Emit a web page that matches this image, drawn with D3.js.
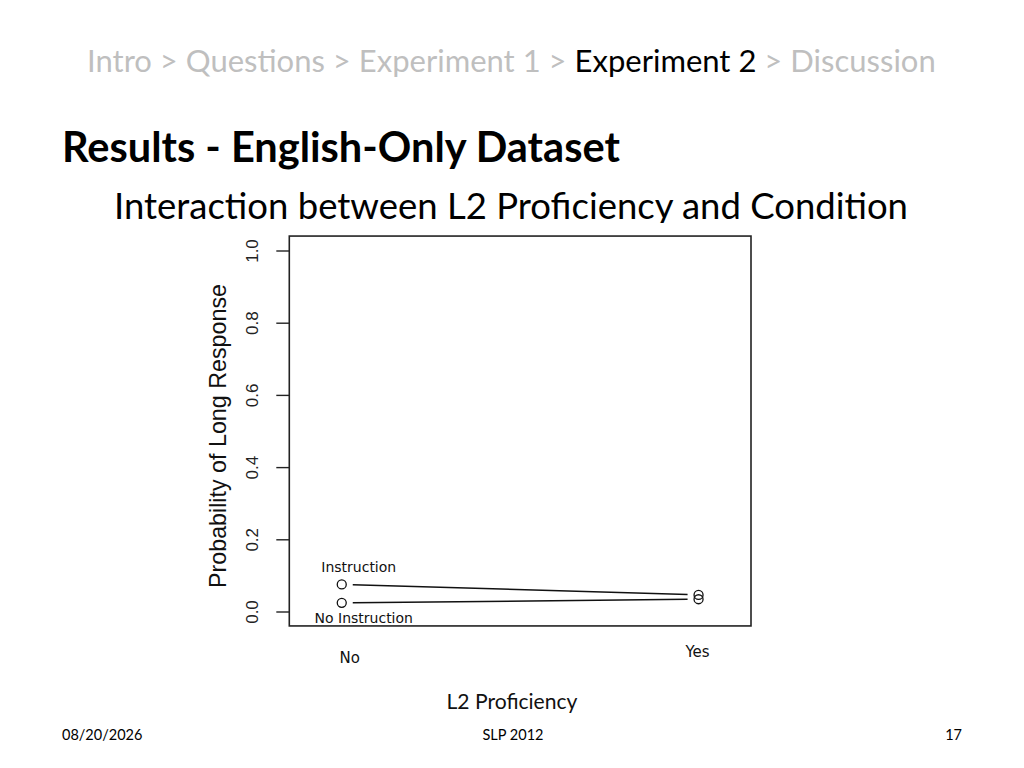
<!DOCTYPE html>
<html>
<head>
<meta charset="utf-8">
<script src="https://cdn.jsdelivr.net/npm/d3@7"></script>
<style>
  body { margin: 0; background: #fff; }
  svg { display: block; }
</style>
</head>
<body>
<svg id="chart"></svg>
<script>
// Data
const proficiency = ["No", "Yes"];
const conditions = ["Instruction", "No Instruction"];
const instructionValues = [0.075, 0.046];
const noInstructionValues = [0.024, 0.034];
const yTicks = [0, 0.2, 0.4, 0.6, 0.8, 1.0];
const crumbs = ["Intro", "Questions", "Experiment 1", "Experiment 2", "Discussion"];
const activeCrumb = "Experiment 2";

const width = 1024;
const height = 768;
const plot = { left: 289.3, right: 751, top: 236, bottom: 626 };

const svg = d3.select("#chart")
    .attr("width", width)
    .attr("height", height);

const slideFont = "Lato, 'Open Sans', sans-serif";
const rFont = "'Liberation Sans', Arial, sans-serif";
const labelFont = "'DejaVu Sans', Verdana, sans-serif";

// scale the font size so the text takes the width it has on the slide
function fitWidth(sel, target, base) {
    const w = sel.node().getComputedTextLength();
    sel.style("font-size", (base * target / w).toFixed(2) + "px");
}

// Breadcrumb
const crumb = svg.append("text")
    .attr("x", 87)
    .attr("y", 72)
    .style("font-family", slideFont)
    .style("font-size", "32px");
crumbs.forEach((c, i) => {
    if (i > 0) crumb.append("tspan").attr("fill", "#bfbfbf").text(" > ");
    crumb.append("tspan")
        .attr("fill", c === activeCrumb ? "#000" : "#bfbfbf")
        .text(c);
});
fitWidth(crumb, 849, 32);

// Title and subtitle
const title = svg.append("text")
    .attr("x", 62)
    .attr("y", 162)
    .style("font-family", slideFont)
    .style("font-weight", "bold")
    .style("font-size", "40px")
    .text("Results - English-Only Dataset");
fitWidth(title, 558, 40);

const subtitle = svg.append("text")
    .attr("x", 114)
    .attr("y", 219)
    .style("font-family", slideFont)
    .style("font-size", "36px")
    .text("Interaction between L2 Proficiency and Condition");
fitWidth(subtitle, 794, 36);

// Plot image background (covers the subtitle descenders like the pasted figure)
svg.append("rect")
    .attr("x", 195)
    .attr("y", 223)
    .attr("width", 575)
    .attr("height", 450)
    .attr("fill", "#fff");

// Scales
const x = d3.scalePoint()
    .domain(proficiency)
    .range([plot.left, plot.right])
    .padding(0.147);

const y = d3.scaleLinear()
    .domain([0, 1])
    .range([611.5, 250.5]);

// Box
svg.append("rect")
    .attr("x", plot.left)
    .attr("y", y(1.04))
    .attr("width", plot.right - plot.left)
    .attr("height", y(-0.04) - y(1.04))
    .attr("fill", "none")
    .attr("stroke", "#222")
    .attr("stroke-width", 1.6);

// Y axis
const yAxis = svg.append("g")
    .attr("transform", `translate(${plot.left},0)`)
    .call(d3.axisLeft(y).tickValues(yTicks).tickSize(13).tickFormat(d3.format(".1f")));
yAxis.select(".domain").remove();
yAxis.selectAll(".tick line").attr("stroke", "#222").attr("stroke-width", 1.4);
yAxis.selectAll(".tick text")
    .attr("x", null)
    .attr("dy", null)
    .attr("transform", "translate(-31,0) rotate(-90)")
    .attr("text-anchor", "middle")
    .attr("fill", "#222")
    .style("font-family", rFont)
    .style("font-size", "17px");

svg.append("text")
    .attr("transform", `translate(226,${(y(0.1) + y(0.9)) / 2 + 5}) rotate(-90)`)
    .attr("text-anchor", "middle")
    .attr("textLength", 304)
    .attr("lengthAdjust", "spacingAndGlyphs")
    .style("font-family", rFont)
    .style("font-size", "24px")
    .attr("fill", "#111")
    .text("Probability of Long Response");

// Series
const series = [
    { name: conditions[0], values: instructionValues, label: { dx: 17, dy: -12 } },
    { name: conditions[1], values: noInstructionValues, label: { dx: 22, dy: 20 } }
];

const gap = 11;
series.forEach(s => {
    const pts = s.values.map((v, i) => [x(proficiency[i]), y(v)]);
    for (let i = 0; i < pts.length - 1; i++) {
        const [x0, y0] = pts[i];
        const [x1, y1] = pts[i + 1];
        const len = Math.hypot(x1 - x0, y1 - y0);
        const ux = (x1 - x0) / len, uy = (y1 - y0) / len;
        svg.append("line")
            .attr("x1", x0 + ux * gap)
            .attr("y1", y0 + uy * gap)
            .attr("x2", x1 - ux * gap)
            .attr("y2", y1 - uy * gap)
            .attr("stroke", "#111")
            .attr("stroke-width", 1.5);
    }
    svg.selectAll(null)
        .data(pts)
        .enter()
        .append("circle")
        .attr("cx", d => d[0])
        .attr("cy", d => d[1])
        .attr("r", 4.5)
        .attr("fill", "none")
        .attr("stroke", "#111")
        .attr("stroke-width", 1.3);
    svg.append("text")
        .attr("x", pts[0][0] + s.label.dx)
        .attr("y", pts[0][1] + s.label.dy)
        .attr("text-anchor", "middle")
        .style("font-family", labelFont)
        .style("font-size", "14px")
        .attr("fill", "#111")
        .text(s.name);
});

// X category labels (placed as in the pasted figure)
const xLabelOffset = { No: { dx: 8, y: 663 }, Yes: { dx: -1, y: 657 } };
svg.selectAll(".xlab")
    .data(proficiency)
    .enter()
    .append("text")
    .attr("class", "xlab")
    .attr("x", d => x(d) + xLabelOffset[d].dx)
    .attr("y", d => xLabelOffset[d].y)
    .attr("text-anchor", "middle")
    .style("font-family", labelFont)
    .style("font-size", "15px")
    .attr("fill", "#111")
    .text(d => d);

const xTitle = svg.append("text")
    .attr("x", 512)
    .attr("y", 709)
    .attr("text-anchor", "middle")
    .style("font-family", slideFont)
    .style("font-size", "23px")
    .attr("fill", "#111")
    .text("L2 Proficiency");
fitWidth(xTitle, 131, 23);

// Footer
const footer = [
    { text: "08/20/2026", x: 62, anchor: "start" },
    { text: "SLP 2012", x: 513, anchor: "middle" },
    { text: "17", x: 962, anchor: "end" }
];
svg.selectAll(".footer")
    .data(footer)
    .enter()
    .append("text")
    .attr("class", "footer")
    .attr("x", d => d.x)
    .attr("y", 740)
    .attr("text-anchor", d => d.anchor)
    .style("font-family", slideFont)
    .style("font-size", "14.5px")
    .attr("fill", "#000")
    .text(d => d.text);
</script>
</body>
</html>
